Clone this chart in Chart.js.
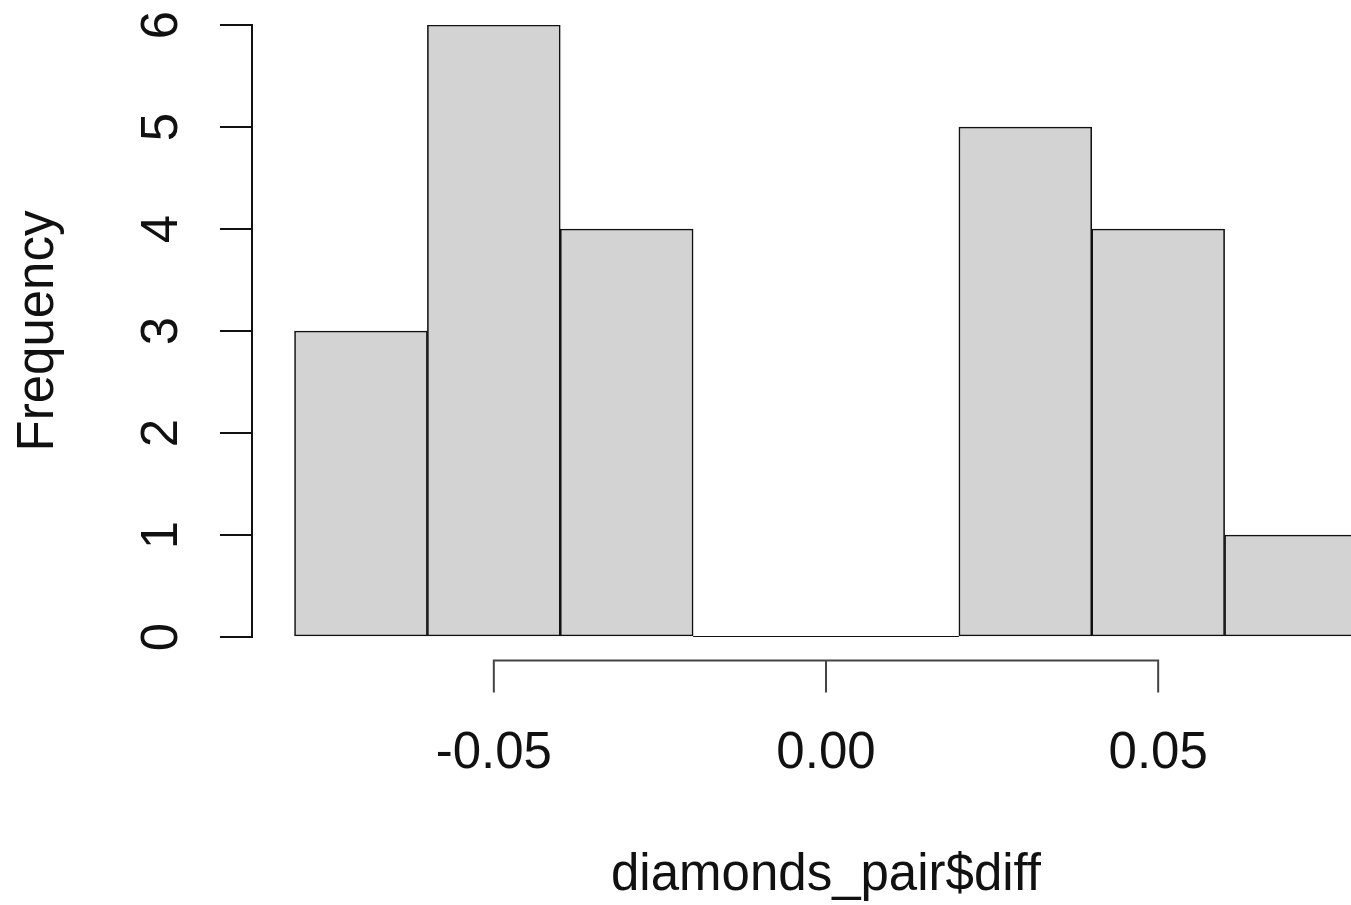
<!DOCTYPE html>
<html>
<head>
<meta charset="utf-8">
<script src="https://cdn.jsdelivr.net/npm/chart.js@4.4.1/dist/chart.umd.min.js"></script>
<style>
  html, body { margin: 0; padding: 0; background: #fff; overflow: hidden; }
  #wrap { width: 1400px; height: 905px; }
</style>
</head>
<body>
<div id="wrap"><canvas id="hist" width="1400" height="905"></canvas></div>
<script>
// histogram of diamonds_pair$diff
var breaks = [-0.08, -0.06, -0.04, -0.02, 0, 0.02, 0.04, 0.06, 0.08];
var counts = [3, 6, 4, 0, 0, 5, 4, 1];
var xTicks = [-0.05, 0, 0.05];
var yTicks = [0, 1, 2, 3, 4, 5, 6];
var xLimits = [-0.0864, 0.0864];
var yLimits = [0, 6];
var xTitle = 'diamonds_pair$diff';
var yTitle = 'Frequency';

var bars = [];
var zeroBins = [];
for (var i = 0; i < counts.length; i++) {
    bars.push({x: (breaks[i] + breaks[i + 1]) / 2, y: counts[i]});
    if (counts[i] === 0) {
        zeroBins.push({x: breaks[i], y: 0});
        zeroBins.push({x: breaks[i + 1], y: 0});
    }
}

Chart.defaults.font.family = "'Liberation Sans', Arial, Helvetica, sans-serif";
Chart.defaults.font.size = 51;
Chart.defaults.color = '#111';

// R style x axis: detached line from first to last tick
var rAxisX = {
    id: 'rAxisX',
    afterDraw: function(chart) {
        var sc = chart.scales.x;
        var ctx = chart.ctx;
        var y = sc.top + 23.5;
        var x0 = sc.getPixelForValue(xTicks[0]);
        var x1 = sc.getPixelForValue(xTicks[xTicks.length - 1]);
        ctx.save();
        ctx.strokeStyle = '#444';
        ctx.lineWidth = 2;
        ctx.lineCap = 'square';
        ctx.beginPath();
        ctx.moveTo(x0, y);
        ctx.lineTo(x1, y);
        xTicks.forEach(function(v) {
            var x = sc.getPixelForValue(v);
            ctx.moveTo(x, y);
            ctx.lineTo(x, y + 31);
        });
        ctx.stroke();
        ctx.restore();
    }
};

new Chart(document.getElementById('hist'), {
    type: 'bar',
    data: {
        datasets: [
            {
                data: bars,
                backgroundColor: '#D3D3D3',
                borderColor: '#111',
                borderWidth: 1.6,
                borderSkipped: false,
                barPercentage: 1,
                categoryPercentage: 1
            },
            {
                type: 'line',
                data: zeroBins,
                borderColor: '#111',
                borderWidth: 2,
                pointRadius: 0,
                fill: false
            }
        ]
    },
    options: {
        responsive: false,
        animation: false,
        devicePixelRatio: 1,
        layout: { padding: { top: 25, left: 0, right: 0, bottom: 0 } },
        plugins: { legend: { display: false }, tooltip: { enabled: false } },
        scales: {
            x: {
                type: 'linear',
                min: xLimits[0],
                max: xLimits[1],
                offset: false,
                grid: { display: false, drawTicks: false, offset: false },
                border: { display: false },
                afterBuildTicks: function(axis) {
                    axis.ticks = xTicks.map(function(v) { return {value: v}; });
                },
                afterFit: function(axis) {
                    axis.height = 268;
                    axis.paddingLeft = 0;
                    axis.paddingRight = 0;
                },
                ticks: {
                    padding: 91,
                    maxRotation: 0,
                    autoSkip: false,
                    font: { lineHeight: 1 },
                    callback: function(v) { return Number(v).toFixed(2); }
                },
                title: {
                    display: true,
                    text: xTitle,
                    font: { lineHeight: 1 },
                    padding: { top: 0, bottom: 4 }
                }
            },
            y: {
                min: yLimits[0],
                max: yLimits[1],
                grid: {
                    drawOnChartArea: false,
                    drawTicks: true,
                    tickLength: 32,
                    color: '#111',
                    lineWidth: 2
                },
                border: { display: true, color: '#111', width: 2 },
                afterBuildTicks: function(axis) {
                    axis.ticks = yTicks.map(function(v) { return {value: v}; });
                },
                afterFit: function(axis) {
                    axis.width = 252;
                    axis.paddingTop = 0;
                    axis.paddingBottom = 0;
                },
                ticks: {
                    padding: 43,
                    minRotation: 90,
                    maxRotation: 90,
                    crossAlign: 'center',
                    font: { lineHeight: 1 }
                },
                title: {
                    display: true,
                    text: yTitle,
                    font: { lineHeight: 1 },
                    padding: { top: 13, bottom: 0 }
                }
            }
        }
    },
    plugins: [rAxisX]
});
</script>
</body>
</html>
